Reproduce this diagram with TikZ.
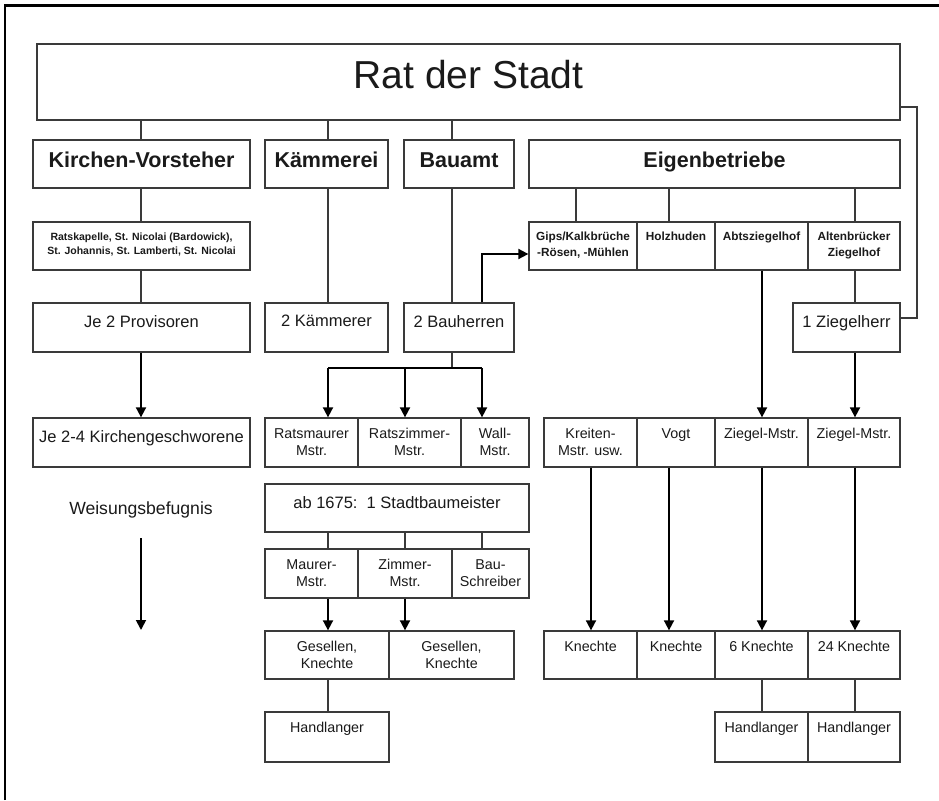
\documentclass[tikz,border=0pt]{standalone}
\usepackage{fontspec}
\setmainfont{Liberation Sans}
\usetikzlibrary{arrows.meta,fit,calc}
\definecolor{boxc}{HTML}{3A3A3A}
\definecolor{txtc}{HTML}{1A1A1A}
\newcommand\mkbox[5]{\node[box, fit={(#2,#3) (#4,#5)}] (#1) {};}
\begin{document}
\begin{tikzpicture}[x=1pt,y=-1pt,
  box/.style={draw=boxc, line width=1.3pt, inner sep=0pt, rectangle},
  ln/.style={draw=boxc, line width=1.3pt},
  thk/.style={draw=black, line width=1.8pt},
  arr/.style={draw=black, line width=1.8pt, -{Triangle[width=10pt,length=10pt]}},
  tR/.style={font=\fontsize{16.5}{19}\selectfont, inner sep=0pt, anchor=north, align=center, text=txtc},
  tS/.style={font=\fontsize{14.3}{17}\selectfont, inner sep=0pt, anchor=north, align=center, text=txtc},
  tB/.style={font=\bfseries\fontsize{11.8}{16}\selectfont, inner sep=0pt, anchor=north, align=center, text=txtc},
  tBs/.style={font=\bfseries\fontsize{10.5}{14}\selectfont, inner sep=0pt, anchor=north, align=center, text=txtc},
  tH/.style={font=\bfseries\fontsize{21.5}{25}\selectfont, inner sep=0pt, anchor=base, text=txtc},
]
\useasboundingbox (0,0) rectangle (939,800);
\fill[white] (0,0) rectangle (939,800);
% outer frame (top and left only)
\draw[line width=2.5pt, black] (5,800) -- (5,5.5) -- (939,5.5);

% boxes
\mkbox{rat}{37}{44}{900}{120}
\mkbox{kv}{33}{140}{250}{188}
\mkbox{kam}{265}{140}{388}{188}
\mkbox{bau}{404}{140}{514}{188}
\mkbox{eig}{529}{140}{900}{188}
\mkbox{rk}{33}{222}{250}{270}
\mkbox{gips}{529}{222}{637}{270}
\mkbox{holz}{637}{222}{715}{270}
\mkbox{abts}{715}{222}{808}{270}
\mkbox{alt}{808}{222}{900}{270}
\mkbox{prov}{33}{303}{250}{352}
\mkbox{kamz}{265}{303}{388}{352}
\mkbox{bh}{404}{303}{514}{352}
\mkbox{zh}{793}{303}{900}{352}
\mkbox{kg}{33}{418}{250}{467}
\mkbox{rm}{265}{418}{358}{467}
\mkbox{rz}{358}{418}{461}{467}
\mkbox{wm}{461}{418}{529}{467}
\mkbox{kr}{544}{418}{637}{467}
\mkbox{vogt}{637}{418}{715}{467}
\mkbox{zma}{715}{418}{808}{467}
\mkbox{zmb}{808}{418}{900}{467}
\mkbox{sb}{265}{484}{529}{532}
\mkbox{mm}{265}{549}{358}{598}
\mkbox{zim}{358}{549}{452}{598}
\mkbox{bs}{452}{549}{529}{598}
\mkbox{ga}{265}{631}{389}{679}
\mkbox{gb}{389}{631}{514}{679}
\mkbox{kna}{544}{631}{637}{679}
\mkbox{knb}{637}{631}{715}{679}
\mkbox{knc}{715}{631}{808}{679}
\mkbox{knd}{808}{631}{900}{679}
\mkbox{hla}{265}{712}{389}{762}
\mkbox{hlb}{715}{712}{808}{762}
\mkbox{hlc}{808}{712}{900}{762}

% texts
\node[font=\fontsize{39}{44}\selectfont, inner sep=0pt, anchor=base, text=txtc] (rat-t) at ([yshift=-45.3pt]rat.north) {Rat der Stadt};
\node[tH] (kv-t) at ([yshift=-28pt]kv.north) {Kirchen-Vorsteher};
\node[tH] (kam-t) at ([yshift=-28pt]kam.north) {Kämmerei};
\node[tH] (bau-t) at ([yshift=-28pt]bau.north) {Bauamt};
\node[tH] (eig-t) at ([yshift=-28pt]eig.north) {Eigenbetriebe};
\node[tBs] (rk-t) at ([yshift=-11pt]rk.north) {Ratskapelle, St. Nicolai (Bardowick),\\St. Johannis, St. Lamberti, St. Nicolai};
\node[tB] (gips-t) at ([yshift=-10.5pt]gips.north) {Gips/Kalkbrüche\\-Rösen, -Mühlen};
\node[tB] (holz-t) at ([yshift=-10.5pt]holz.north) {Holzhuden};
\node[tB] (abts-t) at ([yshift=-10.5pt]abts.north) {Abtsziegelhof};
\node[tB] (alt-t) at ([yshift=-10.5pt]alt.north) {Altenbrücker\\Ziegelhof};
\node[tR] (prov-t) at ([yshift=-12.5pt]prov.north) {Je 2 Provisoren};
\node[tR] (kamz-t) at ([yshift=-12.5pt]kamz.north) {2 Kämmerer};
\node[tR] (bh-t) at ([yshift=-12.5pt]bh.north) {2 Bauherren};
\node[tR] (zh-t) at ([yshift=-12.5pt]zh.north) {1 Ziegelherr};
\node[tR] (kg-t) at ([yshift=-12.5pt]kg.north) {Je 2-4 Kirchengeschworene};
\node[tS] (rm-t) at ([yshift=-11pt]rm.north) {Ratsmaurer\\Mstr.};
\node[tS] (rz-t) at ([yshift=-11pt]rz.north) {Ratszimmer-\\Mstr.};
\node[tS] (wm-t) at ([yshift=-11pt]wm.north) {Wall-\\Mstr.};
\node[tS] (kr-t) at ([yshift=-11pt]kr.north) {Kreiten-\\Mstr. usw.};
\node[tS] (vogt-t) at ([yshift=-11pt]vogt.north) {Vogt};
\node[tS] (zma-t) at ([yshift=-11pt]zma.north) {Ziegel-Mstr.};
\node[tS] (zmb-t) at ([yshift=-11pt]zmb.north) {Ziegel-Mstr.};
\node[tR] (sb-t) at ([yshift=-12.5pt]sb.north) {ab 1675:~~1 Stadtbaumeister};
\node[tS] (mm-t) at ([yshift=-11pt]mm.north) {Maurer-\\Mstr.};
\node[tS] (zim-t) at ([yshift=-11pt]zim.north) {Zimmer-\\Mstr.};
\node[tS] (bs-t) at ([yshift=-11pt]bs.north) {Bau-\\Schreiber};
\node[tS] (ga-t) at ([yshift=-11pt]ga.north) {Gesellen,\\Knechte};
\node[tS] (gb-t) at ([yshift=-11pt]gb.north) {Gesellen,\\Knechte};
\node[tS] (kna-t) at ([yshift=-11pt]kna.north) {Knechte};
\node[tS] (knb-t) at ([yshift=-11pt]knb.north) {Knechte};
\node[tS] (knc-t) at ([yshift=-11pt]knc.north) {6 Knechte};
\node[tS] (knd-t) at ([yshift=-11pt]knd.north) {24 Knechte};
\node[tS] (hla-t) at ([yshift=-11pt]hla.north) {Handlanger};
\node[tS] (hlb-t) at ([yshift=-11pt]hlb.north) {Handlanger};
\node[tS] (hlc-t) at ([yshift=-11pt]hlc.north) {Handlanger};
\node[font=\fontsize{17.6}{20}\selectfont, inner sep=0pt, anchor=base, text=txtc] (wb-t) at (141,514) {Weisungsbefugnis};

% column / row helper coordinates
\coordinate (c141) at (141,0);
\coordinate (c328) at (328,0);
\coordinate (c405) at (405,0);
\coordinate (c452) at (452,0);
\coordinate (c482) at (482,0);
\coordinate (c576) at (576,0);
\coordinate (c591) at (591,0);
\coordinate (c669) at (669,0);
\coordinate (c762) at (762,0);
\coordinate (c855) at (855,0);
\coordinate (c917) at (917,0);
\coordinate (r254) at (0,254);
\coordinate (fan) at (0,368);
\coordinate (fba) at (0,107);
\coordinate (fbb) at (0,318);
\coordinate (wa) at (141,538);
\coordinate (wz) at (141,630);

% connectors
\draw[ln] (rat.south -| c141) -- (kv.north -| c141);
\draw[ln] (rat.south -| c328) -- (kam.north -| c328);
\draw[ln] (rat.south -| c452) -- (bau.north -| c452);
\draw[ln] (kv.south -| c141) -- (rk.north -| c141);
\draw[ln] (rk.south -| c141) -- (prov.north -| c141);
\draw[arr] (prov.south -| c141) -- (kg.north -| c141);
\draw[ln] (kam.south -| c328) -- (kamz.north -| c328);
\draw[ln] (bau.south -| c452) -- (bh.north -| c452);
\draw[arr] (bh.north -| c482) |- (gips.west |- r254);
\draw[ln] (bh.south -| c452) -- (fan -| c452);
\draw[thk] (fan -| c328) -- (fan -| c482);
\draw[arr] (fan -| c328) -- (rm.north -| c328);
\draw[arr] (fan -| c405) -- (rz.north -| c405);
\draw[arr] (fan -| c482) -- (wm.north -| c482);
\draw[ln] (eig.south -| c576) -- (gips.north -| c576);
\draw[ln] (eig.south -| c669) -- (holz.north -| c669);
\draw[ln] (eig.south -| c855) -- (alt.north -| c855);
\draw[ln] (rat.east |- fba) -| (c917 |- fbb) -- (zh.east |- fbb);
\draw[ln] (alt.south -| c855) -- (zh.north -| c855);
\draw[arr] (abts.south -| c762) -- (zma.north -| c762);
\draw[arr] (zh.south -| c855) -- (zmb.north -| c855);
\draw[ln] (sb.south -| c328) -- (mm.north -| c328);
\draw[ln] (sb.south -| c405) -- (zim.north -| c405);
\draw[ln] (sb.south -| c482) -- (bs.north -| c482);
\draw[arr] (mm.south -| c328) -- (ga.north -| c328);
\draw[arr] (zim.south -| c405) -- (gb.north -| c405);
\draw[ln] (ga.south -| c328) -- (hla.north -| c328);
\draw[arr] (kr.south -| c591) -- (kna.north -| c591);
\draw[arr] (vogt.south -| c669) -- (knb.north -| c669);
\draw[arr] (zma.south -| c762) -- (knc.north -| c762);
\draw[arr] (zmb.south -| c855) -- (knd.north -| c855);
\draw[ln] (knc.south -| c762) -- (hlb.north -| c762);
\draw[ln] (knd.south -| c855) -- (hlc.north -| c855);
\draw[arr] (wa) -- (wz);
\end{tikzpicture}
\end{document}
